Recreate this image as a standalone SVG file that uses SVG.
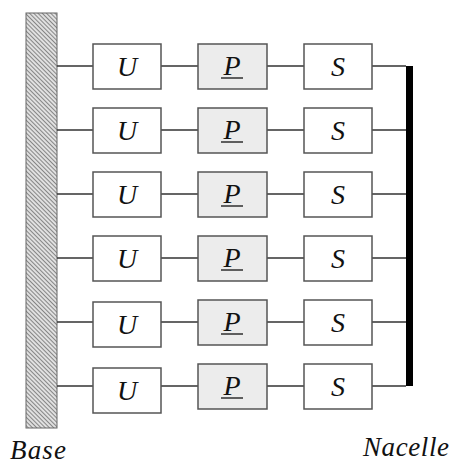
<svg xmlns="http://www.w3.org/2000/svg" width="454" height="464" viewBox="0 0 454 464">
<defs>
<pattern id="hatch" width="3" height="3" patternUnits="userSpaceOnUse" patternTransform="rotate(45)">
<rect width="3" height="3" fill="#e0e0e0"/>
<line x1="0" y1="0" x2="3" y2="0" stroke="#555" stroke-width="1.3"/>
</pattern>
</defs>
<style>
.box{fill:#fff;stroke:#555;stroke-width:1.5}
.pbox{fill:#ececec;stroke:#555;stroke-width:1.5}
.ln{stroke:#333;stroke-width:1.3;fill:none}
.t{font-family:'Liberation Serif','Times New Roman',serif;font-style:italic;font-size:28px;text-anchor:middle;fill:#111}
.c{font-family:'Liberation Serif','Times New Roman',serif;font-style:italic;font-size:27px;fill:#111}
.ul{stroke:#111;stroke-width:1.3}
</style>
<g id="base"><rect x="26" y="13" width="31" height="415" fill="url(#hatch)" stroke="#666" stroke-width="1"/></g>
<g id="nacelle"><rect x="406" y="66" width="7" height="320" fill="#000"/></g>
<g id="connectors">
<path class="ln" d="M57 66H93M161 66H198M267 66H304M372 66H406"/>
<path class="ln" d="M57 130H93M161 130H198M267 130H304M372 130H406"/>
<path class="ln" d="M57 194H93M161 194H198M267 194H304M372 194H406"/>
<path class="ln" d="M57 258H93M161 258H198M267 258H304M372 258H406"/>
<path class="ln" d="M57 322H93M161 322H198M267 322H304M372 322H406"/>
<path class="ln" d="M57 386H93M161 386H198M267 386H304M372 386H406"/>
</g>
<g id="row1">
<g id="u1"><rect class="box" x="93" y="44" width="68" height="45"/><text class="t" x="127" y="76">U</text></g>
<g id="p1"><rect class="pbox" x="198" y="44" width="69" height="45"/><text class="t" x="232" y="75">P</text><line class="ul" x1="221" y1="78" x2="243" y2="78"/></g>
<g id="s1"><rect class="box" x="304" y="44" width="68" height="45"/><text class="t" x="338" y="76">S</text></g>
</g>
<g id="row2">
<g id="u2"><rect class="box" x="93" y="108" width="68" height="45"/><text class="t" x="127" y="140">U</text></g>
<g id="p2"><rect class="pbox" x="198" y="108" width="69" height="45"/><text class="t" x="232" y="139">P</text><line class="ul" x1="221" y1="142" x2="243" y2="142"/></g>
<g id="s2"><rect class="box" x="304" y="108" width="68" height="45"/><text class="t" x="338" y="140">S</text></g>
</g>
<g id="row3">
<g id="u3"><rect class="box" x="93" y="172" width="68" height="45"/><text class="t" x="127" y="204">U</text></g>
<g id="p3"><rect class="pbox" x="198" y="172" width="69" height="45"/><text class="t" x="232" y="203">P</text><line class="ul" x1="221" y1="206" x2="243" y2="206"/></g>
<g id="s3"><rect class="box" x="304" y="172" width="68" height="45"/><text class="t" x="338" y="204">S</text></g>
</g>
<g id="row4">
<g id="u4"><rect class="box" x="93" y="236" width="68" height="45"/><text class="t" x="127" y="268">U</text></g>
<g id="p4"><rect class="pbox" x="198" y="236" width="69" height="45"/><text class="t" x="232" y="267">P</text><line class="ul" x1="221" y1="270" x2="243" y2="270"/></g>
<g id="s4"><rect class="box" x="304" y="236" width="68" height="45"/><text class="t" x="338" y="268">S</text></g>
</g>
<g id="row5">
<g id="u5"><rect class="box" x="93" y="302" width="68" height="45"/><text class="t" x="127" y="334">U</text></g>
<g id="p5"><rect class="pbox" x="198" y="300" width="69" height="45"/><text class="t" x="232" y="331">P</text><line class="ul" x1="221" y1="334" x2="243" y2="334"/></g>
<g id="s5"><rect class="box" x="304" y="300" width="68" height="45"/><text class="t" x="338" y="332">S</text></g>
</g>
<g id="row6">
<g id="u6"><rect class="box" x="93" y="368" width="68" height="45"/><text class="t" x="127" y="400">U</text></g>
<g id="p6"><rect class="pbox" x="198" y="364" width="69" height="45"/><text class="t" x="232" y="395">P</text><line class="ul" x1="221" y1="398" x2="243" y2="398"/></g>
<g id="s6"><rect class="box" x="304" y="364" width="68" height="45"/><text class="t" x="338" y="396">S</text></g>
</g>
<g id="labels">
<text class="c" x="10" y="459" textLength="56" lengthAdjust="spacing">Base</text>
<text class="c" x="363" y="456" textLength="86" lengthAdjust="spacing">Nacelle</text>
</g>
</svg>
